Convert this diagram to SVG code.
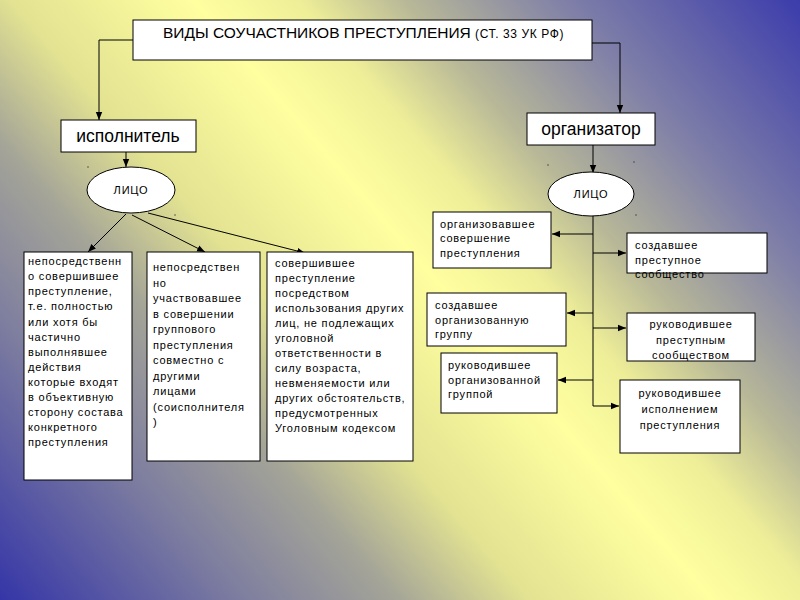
<svg xmlns="http://www.w3.org/2000/svg" width="800" height="600" viewBox="0 0 800 600">
<defs>
<linearGradient id="bg" gradientUnits="userSpaceOnUse" x1="0" y1="600" x2="754" y2="-53">
<stop offset="0" stop-color="#3535a8"/>
<stop offset="0.18" stop-color="#7c7ca0"/>
<stop offset="0.3" stop-color="#a4a498"/>
<stop offset="0.4" stop-color="#e2e292"/>
<stop offset="0.54" stop-color="#ffffa0"/>
<stop offset="0.62" stop-color="#eeee98"/>
<stop offset="0.7" stop-color="#b8b898"/>
<stop offset="0.82" stop-color="#8080a8"/>
<stop offset="1" stop-color="#3c3cac"/>
</linearGradient>
<marker id="arr" markerUnits="userSpaceOnUse" markerWidth="8" markerHeight="8" viewBox="0 0 8 8" refX="8" refY="4" orient="auto">
<path d="M0,0.8 L8,4 L0,7.2 Z" fill="#000"/>
</marker>
</defs>
<style>
.box{fill:#fff;stroke:#000;stroke-width:1}
.t{font-family:"Liberation Sans",Arial,sans-serif;font-size:11px;fill:#000;letter-spacing:0.8px}
.c{text-anchor:middle}
.big{font-family:"Liberation Sans",Arial,sans-serif;font-size:17.5px;fill:#000;text-anchor:middle}
.ln{stroke:#000;stroke-width:1;fill:none}
.ar{stroke:#000;stroke-width:1;fill:none;marker-end:url(#arr)}
</style>
<rect width="800" height="600" fill="url(#bg)"/>

<g id="connectors">
<polyline class="ar" points="133,40 99,40 99,120"/>
<polyline class="ar" points="592,43 620,43 620,113"/>
<line class="ar" x1="126" y1="152" x2="126" y2="167"/>
<line class="ar" x1="126" y1="214" x2="88" y2="252"/>
<line class="ar" x1="132" y1="215" x2="205" y2="252"/>
<line class="ar" x1="148" y1="213" x2="305" y2="253"/>
<line class="ar" x1="593" y1="145" x2="593" y2="173"/>
<line class="ln" x1="593" y1="216" x2="593" y2="406"/>
<line class="ar" x1="593" y1="234" x2="552" y2="234"/>
<line class="ar" x1="593" y1="253" x2="626" y2="253"/>
<line class="ar" x1="593" y1="313" x2="567" y2="313"/>
<line class="ar" x1="593" y1="328" x2="626" y2="328"/>
<line class="ar" x1="593" y1="380" x2="558" y2="380"/>
<line class="ar" x1="593" y1="406" x2="619" y2="406"/>
</g>

<g id="title">
<rect class="box" x="133" y="20" width="459" height="40"/>
<text x="163" y="38" style="font-family:'Liberation Sans',Arial,sans-serif;font-size:15.5px;fill:#000">ВИДЫ СОУЧАСТНИКОВ ПРЕСТУПЛЕНИЯ <tspan style="font-size:12px;letter-spacing:0.6px">(СТ. 33 УК РФ)</tspan></text>
</g>

<g id="ispolnitel">
<rect class="box" x="61" y="120" width="135" height="32"/>
<text class="big" x="128" y="142">исполнитель</text>
</g>

<g id="litso-left">
<ellipse class="box" cx="131" cy="190" rx="44" ry="23"/>
<text class="t c" x="131" y="194">ЛИЦО</text>
</g>

<g id="box-l1">
<rect class="box" x="24" y="252" width="108" height="228"/>
<text class="t" x="28" y="265">непосредственн</text>
<text class="t" x="28" y="280">о совершившее</text>
<text class="t" x="28" y="295">преступление,</text>
<text class="t" x="28" y="310">т.е. полностью</text>
<text class="t" x="28" y="326">или хотя бы</text>
<text class="t" x="28" y="341">частично</text>
<text class="t" x="28" y="356">выполнявшее</text>
<text class="t" x="28" y="371">действия</text>
<text class="t" x="28" y="386">которые входят</text>
<text class="t" x="28" y="401">в объективную</text>
<text class="t" x="28" y="416">сторону состава</text>
<text class="t" x="28" y="431">конкретного</text>
<text class="t" x="28" y="446">преступления</text>
</g>

<g id="box-l2">
<rect class="box" x="147" y="252" width="113" height="209"/>
<text class="t" x="153" y="271">непосредствен</text>
<text class="t" x="153" y="287">но</text>
<text class="t" x="153" y="302">участвовавшее</text>
<text class="t" x="153" y="318">в совершении</text>
<text class="t" x="153" y="333">группового</text>
<text class="t" x="153" y="349">преступления</text>
<text class="t" x="153" y="364">совместно с</text>
<text class="t" x="153" y="380">другими</text>
<text class="t" x="153" y="395">лицами</text>
<text class="t" x="153" y="411">(соисполнителя</text>
<text class="t" x="153" y="426">)</text>
</g>

<g id="box-l3">
<rect class="box" x="267" y="252" width="146" height="209"/>
<text class="t" x="275" y="267">совершившее</text>
<text class="t" x="275" y="282">преступление</text>
<text class="t" x="275" y="297">посредством</text>
<text class="t" x="275" y="312">использования других</text>
<text class="t" x="275" y="327">лиц, не подлежащих</text>
<text class="t" x="275" y="342">уголовной</text>
<text class="t" x="275" y="357">ответственности в</text>
<text class="t" x="275" y="372">силу возраста,</text>
<text class="t" x="275" y="387">невменяемости или</text>
<text class="t" x="275" y="402">других обстоятельств,</text>
<text class="t" x="275" y="417">предусмотренных</text>
<text class="t" x="275" y="432">Уголовным кодексом</text>
</g>

<g id="organizator">
<rect class="box" x="527" y="113" width="128" height="32"/>
<text class="big" x="591" y="135">организатор</text>
</g>

<g id="litso-right">
<ellipse class="box" cx="591" cy="194" rx="43" ry="22"/>
<text class="t c" x="591" y="198">ЛИЦО</text>
</g>

<g id="box-r1">
<rect class="box" x="433" y="212" width="118" height="56"/>
<text class="t" x="440" y="228">организовавшее</text>
<text class="t" x="440" y="242">совершение</text>
<text class="t" x="440" y="257">преступления</text>
</g>

<g id="box-r2">
<rect class="box" x="627" y="233" width="140" height="40"/>
<text class="t" x="635" y="249">создавшее</text>
<text class="t" x="635" y="264">преступное</text>
<text class="t" x="635" y="278">сообщество</text>
</g>

<g id="box-r3">
<rect class="box" x="427" y="293" width="139" height="53"/>
<text class="t" x="435" y="309">создавшее</text>
<text class="t" x="435" y="324">организованную</text>
<text class="t" x="435" y="338">группу</text>
</g>

<g id="box-r4">
<rect class="box" x="627" y="313" width="128" height="48"/>
<text class="t c" x="691" y="328">руководившее</text>
<text class="t c" x="691" y="344">преступным</text>
<text class="t c" x="691" y="359">сообществом</text>
</g>

<g id="box-r5">
<rect class="box" x="441" y="353" width="116" height="60"/>
<text class="t" x="448" y="369">руководившее</text>
<text class="t" x="448" y="384">организованной</text>
<text class="t" x="448" y="398">группой</text>
</g>

<g id="box-r6">
<rect class="box" x="620" y="380" width="120" height="73"/>
<text class="t c" x="680" y="397">руководившее</text>
<text class="t c" x="680" y="413">исполнением</text>
<text class="t c" x="680" y="429">преступления</text>
</g>

<g id="dots" fill="#333">
<circle cx="88" cy="167" r="0.7"/>
<circle cx="175" cy="215" r="0.7"/>
<circle cx="548" cy="165" r="0.7"/>
<circle cx="634" cy="162" r="0.7"/>
<circle cx="636" cy="215" r="0.7"/>
</g>
</svg>
